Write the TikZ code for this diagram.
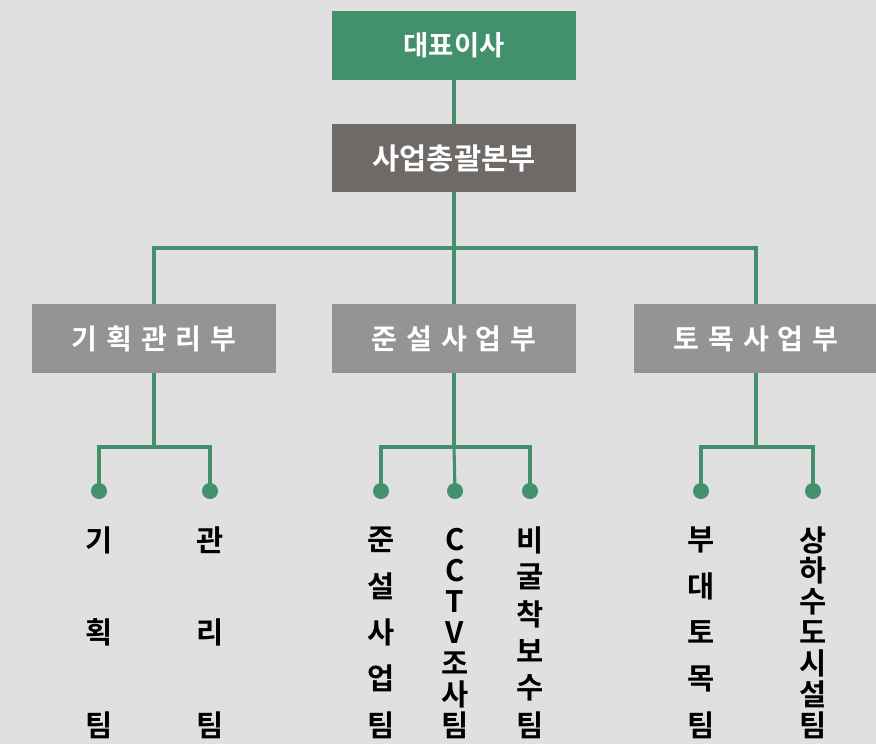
\documentclass[tikz,border=0pt]{standalone}
\usepackage{fontspec}
\setmainfont{Noto Sans CJK KR}[BoldFont={* Bold}]
\usepackage{tikz}
\usetikzlibrary{positioning}
\definecolor{ceogreen}{HTML}{42906C}
\definecolor{hqgray}{HTML}{6E6A68}
\definecolor{deptgray}{HTML}{959394}
\definecolor{bggray}{HTML}{E0E0E0}

\tikzset{
  unitbox/.style={minimum width=6.1cm, minimum height=1.7cm, inner sep=0pt,
    text=white, font=\bfseries\fontsize{19.5}{22}\selectfont},
  deptbox/.style={unitbox, fill=deptgray, font=\bfseries\fontsize{20}{22}\selectfont},
  orgline/.style={ceogreen, line width=2.2pt},
  teamdot/.style={circle, fill=ceogreen, minimum size=0.4cm, inner sep=0pt},
  teamchar/.style={font=\bfseries\fontsize{21}{23}\selectfont, inner sep=0pt}
}
% letters with wide tracking
\newcommand{\tracked}[1]{\foreach \ch [count=\k] in {#1}{\ifnum\k>1\hspace{.32em}\fi\ch}}
% team name set top to bottom: name, x, count, letters
\newcommand{\teamcol}[4]{%
  \foreach \ch [count=\k] in {#4}
    \node[teamchar] (#1-\k) at (#2,{540+(\k-1)*185/(#3-1)}) {\ch};}

\begin{document}
\begin{tikzpicture}[x=0.025cm, y=-0.025cm]
    \fill[bggray] (0,0) rectangle (876,744);
    \useasboundingbox (0,0) rectangle (876,744);

    % Top levels
    \node[unitbox, fill=ceogreen] (ceo) at (454,45.5) {대표이사};
    \node[unitbox, fill=hqgray, font=\bfseries\fontsize{21}{23}\selectfont] (hq) at (454,158) {사업총괄본부};

    % Departments
    \node[deptbox] (plan) at (154,338.5) {\tracked{기,획,관,리,부}};
    \node[deptbox] (dredge) at (454,338.5) {\tracked{준,설,사,업,부}};
    \node[deptbox] (civil) at (756,338.5) {\tracked{토,목,사,업,부}};

    \coordinate (hqj) at (454,248);
    \draw[orgline] (ceo) -- (hq);
    \draw[orgline] (hq) -- (hqj);
    \draw[orgline] (plan.north) |- (hqj) -| (civil.north);
    \draw[orgline] (hqj) -- (dredge.north);

    % Team dots
    \node[teamdot] (d1) at (99,491) {};
    \node[teamdot] (d2) at (210,491) {};
    \node[teamdot] (d3) at (381,491) {};
    \node[teamdot] (d4) at (455,491) {};
    \node[teamdot] (d5) at (530,491) {};
    \node[teamdot] (d6) at (701,491) {};
    \node[teamdot] (d7) at (813,491) {};

    \coordinate (planj) at (154,447);
    \coordinate (dredgej) at (454,447);
    \coordinate (civilj) at (756,447);
    \draw[orgline] (plan) -- (planj);
    \draw[orgline] (d1.center) |- (planj) -| (d2.center);
    \draw[orgline] (dredge) -- (dredgej);
    \draw[orgline] (d3.center) |- (dredgej) -| (d5.center);
    \draw[orgline] (dredgej) -- (d4.center);
    \draw[orgline] (civil) -- (civilj);
    \draw[orgline] (d6.center) |- (civilj) -| (d7.center);

    % Team names
    \teamcol{t1}{99}{3}{기,획,팀}
    \teamcol{t2}{210}{3}{관,리,팀}
    \teamcol{t3}{381}{5}{준,설,사,업,팀}
    \teamcol{t4}{455}{7}{C,C,T,V,조,사,팀}
    \teamcol{t5}{530}{6}{비,굴,착,보,수,팀}
    \teamcol{t6}{701}{5}{부,대,토,목,팀}
    \teamcol{t7}{813}{7}{상,하,수,도,시,설,팀}
\end{tikzpicture}
\end{document}
